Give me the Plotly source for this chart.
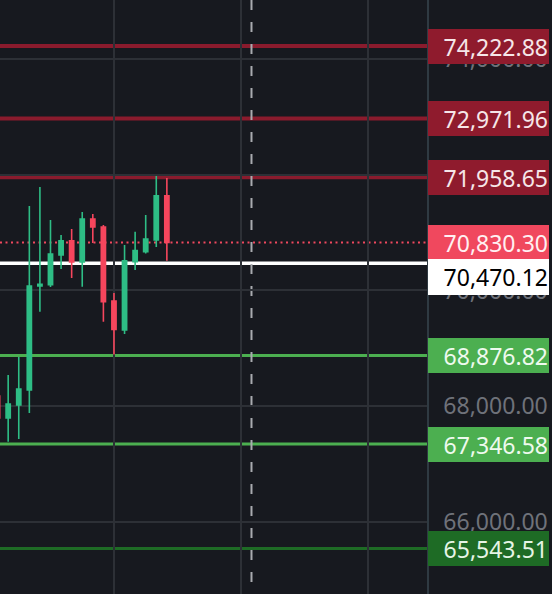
import plotly.graph_objects as go

# ---- data ----
candle_idx = list(range(17))
opens  = [68177, 67797, 68021, 68281, 70078, 70100, 70613, 70860, 70492, 71235, 71097, 69818, 69317, 70498, 70670, 70873, 71638]
highs  = [68200, 68540, 68851, 71460, 71788, 71218, 70959, 71063, 71356, 71322, 71132, 69957, 70786, 71016, 71304, 71978, 71944]
lows   = [67760, 67387, 67434, 67883, 69634, 70060, 70371, 70216, 70066, 70821, 69461, 68894, 69248, 70354, 70640, 70752, 70515]
closes = [67797, 68039, 68298, 70078, 70107, 70631, 70860, 70492, 71235, 71097, 69806, 69326, 70515, 70688, 70890, 71638, 70830.30]

resist_levels = [74222.88, 72971.96, 71958.65]
support_levels = [68876.82, 67346.58]
deep_support = [65543.51]
entry_level = 70470.12
last_price = 70830.30

y_ticks = [66000, 68000, 70000, 72000, 74000]
x_grid = [11, 23, 35]
future_marker = 24

BG = "#17191f"
GRID = "#2d3036"
GREEN = "#2ebd85"
RED = "#f6465d"
FONT = "Noto Sans"

fig = go.Figure()
fig.add_trace(go.Candlestick(
    x=candle_idx, open=opens, high=highs, low=lows, close=closes,
    increasing=dict(line=dict(color=GREEN, width=1.6), fillcolor=GREEN),
    decreasing=dict(line=dict(color=RED, width=1.6), fillcolor=RED),
    whiskerwidth=0, showlegend=False, hoverinfo="skip",
))

shapes = []
annotations = []

def hline(y, color, width, dash="solid"):
    shapes.append(dict(type="line", xref="paper", x0=0, x1=1, yref="y", y0=y, y1=y,
                       line=dict(color=color, width=width, dash=dash), layer="between"))

def label(y, text, bg, fc, yshift=0, h=33):
    annotations.append(dict(xref="paper", x=1, xanchor="left", xshift=1, yref="y", y=y,
                            yshift=yshift, text=text, showarrow=False, align="right",
                            width=119, height=h, bgcolor=bg, borderwidth=0, borderpad=1,
                            font=dict(family=FONT, size=23, color=fc)))

for lv in resist_levels:
    hline(lv, "#8a1b2d", 4)
    label(lv, f"{lv:,.2f}", "#8f1b2d", "#f6e6e8")
for lv in support_levels:
    hline(lv, "#4caf50", 3)
    label(lv, f"{lv:,.2f}", "#4caf50", "#eefaee")
for lv in deep_support:
    hline(lv, "#1e6b25", 3)
    label(lv, f"{lv:,.2f}", "#1e6b25", "#e6f5e6")

hline(entry_level, "#ffffff", 3.5)
hline(last_price, "#f0485e", 2, "2px,3.5px")
label(last_price, f"{last_price:,.2f}", "#f0485e", "#fff0f2")
label(entry_level, f"{entry_level:,.2f}", "#ffffff", "#000000", yshift=-14, h=34)

shapes.append(dict(type="line", xref="x", x0=future_marker, x1=future_marker, yref="paper", y0=1, y1=0,
                   line=dict(color="#a9abb0", width=2, dash="10px,12px"), layer="between"))

fig.update_layout(
    width=552, height=594,
    margin=dict(l=0, r=125, t=0, b=0),
    paper_bgcolor=BG, plot_bgcolor=BG,
    shapes=shapes, annotations=annotations,
    boxgap=0.43,
    showlegend=False,
    xaxis=dict(range=[0.227, 40.59], tickvals=x_grid, showticklabels=False, showgrid=True,
               gridcolor=GRID, gridwidth=1.5, zeroline=False, rangeslider=dict(visible=False),
               showline=False, fixedrange=True),
    yaxis=dict(range=[64756, 75019], side="right", tickvals=y_ticks, tickformat=",.2f",
               showgrid=True, gridcolor=GRID, gridwidth=1.5, zeroline=False,
               showline=True, linecolor="#2f3a42", linewidth=1.5, ticks="",
               ticklabelstandoff=10,
               tickfont=dict(family=FONT, size=23, color="#6f727a"), fixedrange=True),
)

fig.write_html("out.html", config={"displayModeBar": False},
               post_script="document.body.style.margin='0px';document.body.style.background='" + BG + "';")
